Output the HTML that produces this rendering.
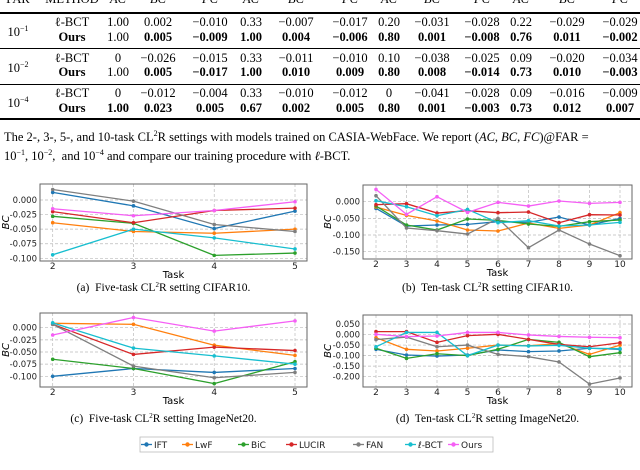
<!DOCTYPE html>
<html><head><meta charset="utf-8"><style>
body{margin:0;width:640px;height:470px;overflow:hidden;background:#fff;font-family:"Liberation Serif",serif;}
.t{position:absolute;font-size:12.5px;white-space:nowrap;transform:translateX(-50%);line-height:14px;}
.b{font-weight:bold;}
.rule{position:absolute;left:0;width:640px;background:#000;}
.cap{position:absolute;left:4px;font-size:12.5px;white-space:nowrap;line-height:15px;}
</style></head><body>
<div id="table"></div>
<div class="cap" style="top:126px">The 2-, 3-, 5-, and 10-task CL<sup style="font-size:8px">2</sup>R settings with models trained on CASIA-WebFace. We report (<i>AC</i>, <i>BC</i>, <i>FC</i>)@FAR =</div>
<div class="cap" style="top:145px">10<sup style="font-size:8px">−1</sup>, 10<sup style="font-size:8px">−2</sup>, &nbsp;and 10<sup style="font-size:8px">−4</sup> and compare our training procedure with <i>ℓ</i>-BCT.</div>
<svg id="charts" width="640" height="470" style="position:absolute;left:0;top:0" font-family="DejaVu Sans, sans-serif"></svg>
<script>
const headers=["FAR","METHOD","AC","BC","FC","AC","BC","FC","AC","BC","FC","AC","BC","FC"];
const tableRows=[
["ℓ-BCT","1.00","0.002","−0.010","0.33","−0.007","−0.017","0.20","−0.031","−0.028","0.22","−0.029","−0.029"],
["Ours","1.00","0.005","−0.009","1.00","0.004","−0.006","0.80","0.001","−0.008","0.76","0.011","−0.002"],
["ℓ-BCT","0","−0.026","−0.015","0.33","−0.011","−0.010","0.10","−0.038","−0.025","0.09","−0.020","−0.034"],
["Ours","1.00","0.005","−0.017","1.00","0.010","0.009","0.80","0.008","−0.014","0.73","0.010","−0.003"],
["ℓ-BCT","0","−0.012","−0.004","0.33","−0.010","−0.012","0","−0.041","−0.028","0.09","−0.016","−0.009"],
["Ours","1.00","0.023","0.005","0.67","0.002","0.005","0.80","0.001","−0.003","0.73","0.012","0.007"]];
const fars=["−1","−2","−4"];
const colX=[18,72,118,158,210,251,296,350,389,432,482,521,567,620];
const rowY=[15,30,51,65,86,101];
const tb=document.getElementById('table');
function addDiv(html,x,y,cls,name){const d=document.createElement('div');d.className='t '+(cls||'');d.style.left=x+'px';d.style.top=y+'px';d.innerHTML=html;


tb.appendChild(d);}
headers.forEach((h,i)=>addDiv(i>1?'<i>'+h+'</i>':h,colX[i],-8,'','header-'+h.toLowerCase()));
[12,48,84,118].forEach((y,i)=>{const r=document.createElement('div');r.className='rule';r.style.top=y+'px';r.style.height=(i==0||i==3?1.5:1)+'px';


tb.appendChild(r);});
fars.forEach((f,i)=>addDiv('10<sup style="font-size:8px">'+f+'</sup>',colX[0],rowY[i*2]+7,'','far-label'));
tableRows.forEach((r,ri)=>r.forEach((v,ci)=>{const ours=r[0]=="Ours";let bold=ours&&(ci>0)&&!(ri<4&&ci==1);if(ours&&ci==0)bold=true;
addDiv(v,colX[ci+1],rowY[ri],bold?'b':'','table-cell');}));

const names=["IFT","LwF","BiC","LUCIR","FAN","ℓ-BCT","Ours"];
const colors=["#1f77b4","#ff7f0e","#2ca02c","#d62728","#7f7f7f","#17becf","#f55ff5"];
const tasks5=[2,3,4,5];
const tasks10=[2,3,4,5,6,7,8,9,10];
const aIFT=[0.013,-0.010,-0.049,-0.019],aLwF=[-0.039,-0.054,-0.057,-0.050],aBiC=[-0.028,-0.040,-0.095,-0.091],aLUCIR=[-0.020,-0.039,-0.018,-0.014],aFAN=[0.018,-0.002,-0.042,-0.054],aBCT=[-0.094,-0.050,-0.065,-0.084],aOurs=[-0.015,-0.027,-0.018,-0.003];
const bIFT=[-0.020,-0.073,-0.070,-0.068,-0.060,-0.062,-0.046,-0.070,-0.050],bLwF=[-0.016,-0.041,-0.058,-0.085,-0.088,-0.064,-0.080,-0.070,-0.033],bBiC=[-0.013,-0.070,-0.085,-0.052,-0.056,-0.067,-0.074,-0.060,-0.055],bLUCIR=[-0.009,-0.006,-0.034,-0.027,-0.033,-0.031,-0.063,-0.039,-0.040],bFAN=[0.018,-0.079,-0.087,-0.097,-0.050,-0.138,-0.085,-0.127,-0.162],bBCT=[0.003,-0.015,-0.042,-0.023,-0.063,-0.057,-0.073,-0.070,-0.062],bOurs=[0.037,-0.038,0.015,-0.032,-0.002,-0.013,0.002,-0.005,-0.002];
const cIFT=[-0.100,-0.084,-0.092,-0.084],cLwF=[0.009,0.007,-0.036,-0.057],cBiC=[-0.065,-0.084,-0.115,-0.070],cLUCIR=[0.007,-0.055,-0.040,-0.047],cFAN=[0.007,-0.079,-0.103,-0.092],cBCT=[0.010,-0.042,-0.058,-0.075],cOurs=[-0.015,0.021,-0.007,0.014];
const dIFT=[-0.070,-0.097,-0.102,-0.097,-0.073,-0.081,-0.078,-0.065,-0.070],dLwF=[-0.015,-0.070,-0.078,-0.065,-0.050,-0.053,-0.043,-0.094,-0.050],dBiC=[-0.065,-0.113,-0.091,-0.100,-0.070,-0.023,-0.037,-0.105,-0.086],dLUCIR=[0.014,0.014,-0.037,-0.005,0.001,-0.023,-0.047,-0.058,-0.039],dFAN=[-0.024,-0.012,-0.058,-0.050,-0.094,-0.105,-0.130,-0.235,-0.206],dBCT=[-0.058,0.010,0.010,-0.100,-0.050,-0.054,-0.051,-0.065,-0.067],dOurs=[0.001,-0.010,-0.007,0.010,0.010,-0.002,-0.009,-0.013,-0.015];
const ticksA=[0,-0.025,-0.05,-0.075,-0.1],ticksB=[0,-0.05,-0.1,-0.15],ticksD=[0.05,0,-0.05,-0.1,-0.15,-0.2];
const charts=[
{id:'a',f:[40,184,307,261],tasks:tasks5,x0:52.7,x1:295,v0:0,p0:200,v1:-0.1,p1:258.3,ticks:ticksA,series:[aIFT,aLwF,aBiC,aLUCIR,aFAN,aBCT,aOurs],cap:'(a)&#160; Five-task CL<tspan baseline-shift="super" font-size="7">2</tspan>R setting CIFAR10.',capY:291,ylx:5},
{id:'b',f:[363,185,632,259],tasks:tasks10,x0:376,x1:620,v0:0,p0:201.7,v1:-0.15,p1:251.7,ticks:ticksB,series:[bIFT,bLwF,bBiC,bLUCIR,bFAN,bBCT,bOurs],cap:'(b)&#160; Ten-task CL<tspan baseline-shift="super" font-size="7">2</tspan>R setting CIFAR10.',capY:291,ylx:327},
{id:'c',f:[40,313,307,387],tasks:tasks5,x0:52.7,x1:295,v0:0,p0:327.7,v1:-0.1,p1:376.3,ticks:ticksA,series:[cIFT,cLwF,cBiC,cLUCIR,cFAN,cBCT,cOurs],cap:'(c)&#160; Five-task CL<tspan baseline-shift="super" font-size="7">2</tspan>R setting ImageNet20.',capY:422,ylx:5},
{id:'d',f:[363,315,632,387],tasks:tasks10,x0:376,x1:620,v0:0.05,p0:324,v1:-0.2,p1:376.7,ticks:ticksD,series:[dIFT,dLwF,dBiC,dLUCIR,dFAN,dBCT,dOurs],cap:'(d)&#160; Ten-task CL<tspan baseline-shift="super" font-size="7">2</tspan>R setting ImageNet20.',capY:422,ylx:327}];
const svg=document.getElementById('charts');const NS='http://www.w3.org/2000/svg';
function el(tag,attrs,parent){const e=document.createElementNS(NS,tag);for(const k in attrs)e.setAttribute(k,attrs[k]);(parent||svg).appendChild(e);return e;}
charts.forEach(c=>{
 const g=el('g',{});
 
 
 const t0=c.tasks[0],tn=c.tasks[c.tasks.length-1];
 const X=t=>c.x0+(t-t0)*(c.x1-c.x0)/(tn-t0);
 const Y=v=>c.p0+(v-c.v0)*(c.p1-c.p0)/(c.v1-c.v0);
 const [fx0,fy0,fx1,fy1]=c.f;
 c.tasks.forEach(t=>{el('line',{x1:X(t),x2:X(t),y1:fy0,y2:fy1,stroke:'#bbb','stroke-dasharray':'3,2','stroke-width':0.7},g);
  const tx=el('text',{x:X(t),y:fy1+8,'font-size':9,'text-anchor':'middle',fill:'#222'},g);tx.textContent=t;
  
  });
 c.ticks.forEach(v=>{el('line',{x1:fx0,x2:fx1,y1:Y(v),y2:Y(v),stroke:'#bbb','stroke-dasharray':'3,2','stroke-width':0.7},g);
  const tx=el('text',{x:fx0-3,y:Y(v)+3,'font-size':8.5,'text-anchor':'end',fill:'#222'},g);tx.textContent=(v<0?'-':'')+Math.abs(v).toFixed(3);
  
  });
 const fr=el('rect',{x:fx0,y:fy0,width:fx1-fx0,height:fy1-fy0,fill:'none',stroke:'#666','stroke-width':1},g);
 
 
 const yl=el('text',{x:0,y:0,'font-size':10,'font-style':'italic','text-anchor':'middle',transform:`translate(${c.ylx+4},${(fy0+fy1)/2}) rotate(-90)`},g);yl.textContent='BC';
 
 
 const xl=el('text',{x:(fx0+fx1)/2,y:fy1+17,'font-size':10,'text-anchor':'middle'},g);xl.textContent='Task';
 
 
 c.series.forEach((s,si)=>{
  const pl=el('polyline',{points:s.map((v,i)=>X(c.tasks[i])+','+Y(v)).join(' '),fill:'none',stroke:colors[si],'stroke-width':1.3},g);
  
  
  s.forEach((v,i)=>{const m=el('circle',{cx:X(c.tasks[i]),cy:Y(v),r:1.8,fill:colors[si]},g);
   
   });
 });
 const cp=el('text',{x:(fx0+fx1)/2-10,y:c.capY,'font-size':11.5,'text-anchor':'middle','font-family':'Liberation Serif, serif'},g);cp.innerHTML=c.cap;
 
 
});
const lg=el('g',{});


el('rect',{x:140,y:437,width:353,height:15,fill:'#fff',stroke:'#bbb','stroke-width':0.8},lg);
const legX=[153,194,250,298,365,417,460];
names.forEach((n,i)=>{const x=legX[i];
 el('line',{x1:x-12,x2:x-1,y1:444.5,y2:444.5,stroke:colors[i],'stroke-width':1.3},lg);
 el('circle',{cx:x-6.5,cy:444.5,r:2.2,fill:colors[i]},lg);
 const t=el('text',{x:x+1,y:448,'font-size':9,fill:'#222'},lg);t.textContent=n;
 
 });
</script>
</body></html>
